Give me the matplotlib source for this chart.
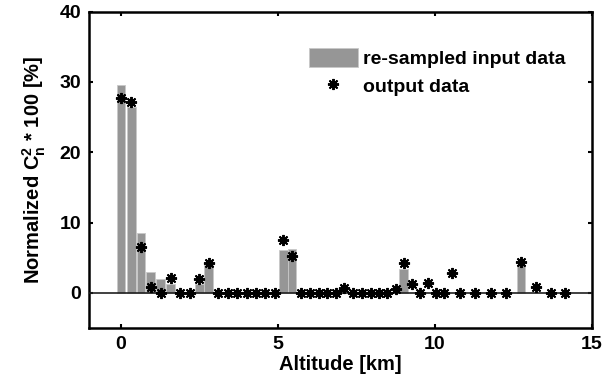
import matplotlib
matplotlib.use("Agg")
import matplotlib.pyplot as plt
from matplotlib.patches import Patch
from matplotlib.lines import Line2D

plt.rcParams['font.family'] = ['Liberation Sans', 'DejaVu Sans']
plt.rcParams['font.weight'] = 'bold'
plt.rcParams['mathtext.fontset'] = 'custom'
plt.rcParams['mathtext.rm'] = 'Liberation Sans:bold'
plt.rcParams['mathtext.bf'] = 'Liberation Sans:bold'

# output data: altitude [km] and normalized Cn2 * 100 [%]
alt_out = [0.00, 0.34, 0.64, 0.95, 1.27, 1.59, 1.89, 2.20, 2.50, 2.80,
           3.11, 3.41, 3.71, 4.02, 4.31, 4.60, 4.90, 5.18, 5.46, 5.74,
           6.02, 6.30, 6.58, 6.85, 7.12, 7.40, 7.68, 7.96, 8.22, 8.49,
           8.75, 9.01, 9.28, 9.54, 9.79, 10.05, 10.30, 10.54, 10.80, 11.29,
           11.78, 12.27, 12.75, 13.23, 13.70, 14.16]
cn2_out = [27.7, 27.1, 6.5, 0.8, 0.0, 2.1, 0.0, 0.0, 2.0, 4.3,
           0.0, 0.0, 0.0, 0.0, 0.0, 0.0, 0.0, 7.5, 5.25, 0.0,
           0.0, 0.0, 0.0, 0.0, 0.75, 0.0, 0.0, 0.0, 0.0, 0.0,
           0.6, 4.3, 1.25, 0.0, 1.4, 0.0, 0.0, 2.8, 0.0, 0.0,
           0.0, 0.0, 4.4, 0.9, 0.0, 0.0]

# re-sampled input data (non-zero bars only)
alt_in = [0.00, 0.34, 0.64, 0.95, 1.27, 1.59, 2.50, 2.80, 5.18, 5.46, 9.01, 12.75]
cn2_in = [29.6, 26.4, 8.5, 2.9, 1.9, 1.2, 1.3, 4.0, 6.15, 6.3, 3.4, 3.9]

fig = plt.figure(figsize=(6.12, 3.87), dpi=100)
ax = fig.add_axes([0.146, 0.1525, 0.821, 0.8175])

ax.bar(alt_in, cn2_in, width=0.27, color='#969696', edgecolor='#c8c8c8',
       linewidth=0.6, zorder=2)
ax.axhline(0, color='#202020', linewidth=1.2, zorder=3)
star = dict(linestyle='none', marker=(8, 2, 0), markersize=8,
            markeredgewidth=1.4, color='black')
ax.plot(alt_out, cn2_out, zorder=4, **star)

ax.set_xlim(-1, 15)
ax.set_ylim(-5, 40)
ax.set_xticks([0, 5, 10, 15])
ax.set_yticks([0, 10, 20, 30, 40])
ax.tick_params(direction='in', length=3, width=1.5, top=True, right=True,
               labelsize=14, pad=6)
for s in ax.spines.values():
    s.set_linewidth(1.8)

ax.set_xlabel('Altitude [km]', fontsize=14.5, fontweight='bold', labelpad=1)
ax.set_ylabel(r'Normalized C$_\mathregular{n}^\mathregular{2}$ * 100 [%]',
              fontsize=14.5, fontweight='bold', labelpad=8)

handles = [Patch(facecolor='#969696', edgecolor='#c8c8c8', linewidth=0.6),
           Line2D([], [], **star)]
ax.legend(handles, ['re-sampled input data', 'output data'],
          loc='upper left', bbox_to_anchor=(0.505, 0.875),
          bbox_transform=fig.transFigure, frameon=False, fontsize=14,
          handlelength=2.5, handleheight=1.13, handletextpad=0.26,
          labelspacing=0.38, borderpad=0, borderaxespad=0)

fig.savefig('out.png', dpi=100)
